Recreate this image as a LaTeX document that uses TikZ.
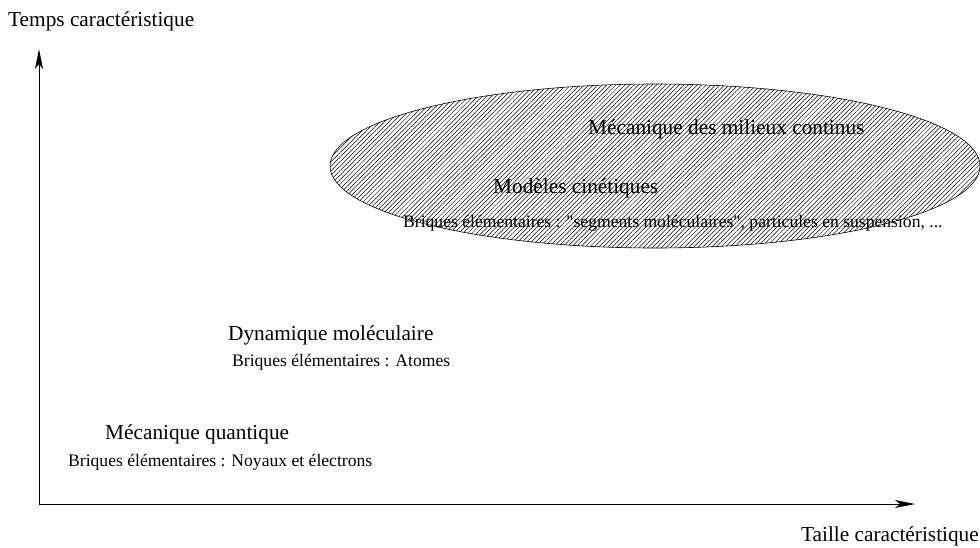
\documentclass[tikz,border=0pt]{standalone}
\usepackage{fontspec}
\newfontfamily\txtfont{Liberation Serif}
\usetikzlibrary{arrows.meta,patterns.meta,shapes.geometric}
\tikzset{
  big/.style={font=\txtfont\fontsize{21.3}{24}\selectfont, inner sep=0pt, anchor=base west},
  small/.style={font=\txtfont\fontsize{17.6}{20}\selectfont, inner sep=0pt, anchor=base west},
  axis/.style={line width=1pt, -{Stealth[length=20pt,width=8pt,inset=5pt]}},
  hatched/.style={draw=black, line width=0.6pt, pattern={Lines[angle=45,distance=3.2pt,line width=0.5pt]}}
}
\begin{document}
\begin{tikzpicture}[x=1pt,y=-1pt]
\useasboundingbox (0,0) rectangle (980,547);
\coordinate (origin) at (39,504);
\coordinate (ytip) at (39,49);
\coordinate (xtip) at (915,504);
\draw[axis] (origin) -- (ytip);
\draw[axis] (origin) -- (xtip);
\node[big] (ylab) at (8,26) {Temps caractéristique};
\node[big, anchor=base east] (xlab) at (979,541) {Taille caractéristique};
\node[hatched, ellipse, minimum width=650pt, minimum height=164pt, inner sep=0pt] (ell) at (655,166) {};
\node[big] (mmc) at (588,134) {Mécanique des milieux continus};
\node[big] (mc) at (493,193) {Modèles cinétiques};
\node[small] (mcb) at (403,227) {Briques élémentaires : "segments moléculaires", particules en suspension, ...};
\node[big] (dm) at (228,340) {Dynamique moléculaire};
\node[small] (dmb) at (232,366) {Briques élémentaires : Atomes};
\node[big] (mq) at (105,439) {Mécanique quantique};
\node[small] (mqb) at (68,466) {Briques élémentaires : Noyaux et électrons};
\end{tikzpicture}
\end{document}
